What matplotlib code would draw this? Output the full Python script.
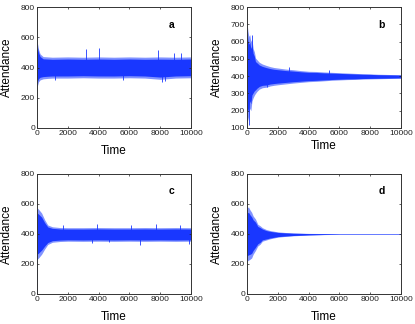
import numpy as np
import matplotlib
matplotlib.use("Agg")
import matplotlib.pyplot as plt

plt.rcParams["font.family"] = ["Liberation Sans", "DejaVu Sans"]

# envelopes (time, upper, lower)
t_a = [0, 30, 100, 200, 400, 700, 1000, 2000, 3000, 4000, 5000, 6000, 7000, 8000, 9000, 10000]
up_a = [605, 560, 520, 490, 472, 470, 468, 470, 468, 470, 468, 470, 468, 470, 468, 470]
lo_a = [258, 280, 305, 318, 325, 328, 330, 330, 332, 330, 330, 332, 330, 322, 330, 332]
spike_t_a = [3150, 4000, 7850, 8900, 9350, 8100, 8300, 1200, 5600]
spike_v_a = [525, 528, 518, 497, 497, 305, 312, 318, 320]

t_b = [0, 60, 120, 180, 250, 320, 400, 480, 550, 650, 800, 1000, 1250, 1500, 1750, 2000,
       2500, 3000, 3500, 4000, 4500, 5000, 5500, 6000, 6500, 7000, 7500, 8000, 8500,
       9000, 9500, 10000]
up_b = [710, 660, 630, 640, 600, 615, 560, 540, 505, 495, 480, 470, 462, 455, 450, 447,
        441, 437, 432, 428, 427, 424, 422, 420, 418, 416, 414, 413, 411, 410, 409, 408]
lo_b = [135, 150, 175, 215, 200, 255, 275, 290, 300, 312, 325, 333, 336, 343, 347, 350,
        355, 360, 364, 368, 370, 373, 376, 378, 380, 381, 383, 384, 385, 386, 387, 388]
spike_t_b = [150, 300, 1300, 2700, 5300]
spike_v_b = [120, 640, 335, 455, 438]

t_c = [0, 100, 300, 500, 700, 1000, 1500, 2000, 3000, 4000, 5000, 6000, 7000, 8000, 9000, 10000]
up_c = [575, 565, 540, 495, 460, 448, 443, 442, 442, 443, 442, 442, 443, 442, 443, 442]
lo_c = [230, 240, 265, 300, 330, 345, 350, 352, 351, 352, 351, 352, 351, 352, 351, 352]
spike_t_c = [3900, 6100, 7700, 9300, 3600, 6700, 9850, 1700, 4700]
spike_v_c = [465, 460, 465, 460, 340, 330, 335, 460, 345]
start_t_c = [0, 15]
start_v_c = [0, 400]

t_d = [0, 100, 200, 300, 400, 550, 700, 850, 1000, 1250, 1500, 2000, 2500, 3000, 4000,
       5000, 6000, 8000, 10000]
up_d = [575, 580, 560, 545, 520, 500, 465, 455, 442, 430, 423, 414, 410, 407, 404,
        403, 402, 402, 402]
lo_d = [220, 225, 232, 240, 265, 290, 320, 332, 352, 360, 368, 379, 384, 388, 393,
        396, 398, 398, 398]

x_ticks = [0, 2000, 4000, 6000, 8000, 10000]

core = "#1937ff"
edge = "#8193ff"

fig = plt.figure(figsize=(4.15, 3.24), dpi=100)

boxes = [
    [37 / 415, 1 - 128 / 324, 154 / 415, 121 / 324],
    [247 / 415, 1 - 128 / 324, 154 / 415, 121 / 324],
    [37 / 415, 1 - 294 / 324, 154 / 415, 120 / 324],
    [247 / 415, 1 - 294 / 324, 154 / 415, 120 / 324],
]

panels = [
    ("a", t_a, up_a, lo_a, spike_t_a, spike_v_a, (0, 800), range(0, 801, 200), -0.19),
    ("b", t_b, up_b, lo_b, spike_t_b, spike_v_b, (100, 800), range(100, 801, 100), -0.15),
    ("c", t_c, up_c, lo_c, spike_t_c, spike_v_c, (0, 800), range(0, 801, 200), -0.19),
    ("d", t_d, up_d, lo_d, [], [], (0, 800), range(0, 801, 200), -0.19),
]

for box, (name, t, up, lo, st, sv, ylim, yt, xlab_y) in zip(boxes, panels):
    ax = fig.add_axes(box)
    t = np.array(t, dtype=float)
    up = np.array(up, dtype=float)
    lo = np.array(lo, dtype=float)
    mid = (up + lo) / 2

    # light outer fringe, solid core
    ax.fill_between(t, lo, up, color=edge, lw=0)
    ax.fill_between(t, mid - (mid - lo) * 0.8, mid + (up - mid) * 0.8, color=core, lw=0)
    if st:
        ax.vlines(st, 400, sv, color=core, lw=0.6)

    if name == "c":
        ax.plot(start_t_c, start_v_c, color=core, lw=0.6)

    ax.set_xlim(0, 10000)
    ax.set_ylim(*ylim)
    ax.set_xticks(x_ticks)
    ax.set_yticks(list(yt))
    ax.tick_params(direction="in", length=1.5, width=0.5, labelsize=6,
                   top=True, right=True, pad=1.5, colors="#222222")
    for s in ax.spines.values():
        s.set_linewidth(0.7)
        s.set_color("#333333")

    ax.set_xlabel("Time", fontsize=8.5)
    ax.set_ylabel("Attendance", fontsize=8.5)
    ax.xaxis.label.set_va("center")
    ax.yaxis.label.set_va("center")
    ax.xaxis.set_label_coords(0.5, xlab_y)
    ax.yaxis.set_label_coords(-0.195, 0.5)

    ax.text(0.875, 0.855, name, transform=ax.transAxes, fontsize=7.5,
            fontweight="bold", ha="center", va="center")

fig.savefig("out.png", dpi=100)
